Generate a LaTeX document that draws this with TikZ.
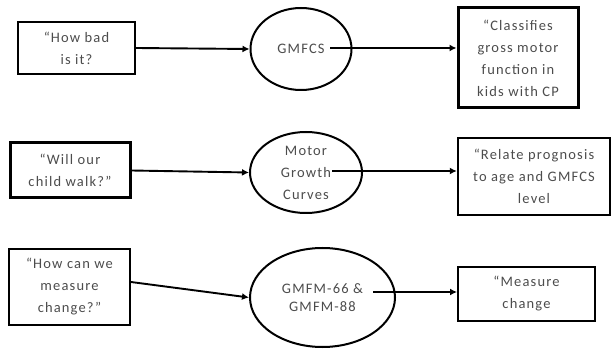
\documentclass[tikz,border=0pt]{standalone}
\usepackage{fontspec}
\setmainfont{Carlito}[LetterSpace=8]
\usetikzlibrary{shapes.geometric,arrows.meta}
\definecolor{txt}{gray}{0.3}
\begin{document}
\begin{tikzpicture}[x=1pt,y=-1pt,
  txtstyle/.style={text=txt,align=center,font=\fontsize{14.5}{22}\selectfont,inner sep=0pt},
  boxn/.style={txtstyle,draw=black,line width=2pt,rectangle},
  boxthick/.style={boxn,line width=3pt},
  ell/.style={txtstyle,draw=black,line width=2pt,ellipse},
  arr/.style={draw=black,line width=1.9pt,-{Latex[length=7pt,width=7pt]}}]
\useasboundingbox (0,0) rectangle (612,352);
% row 1
\node[boxn,minimum width=117pt,minimum height=52pt] (b1) at (76.5,48) {“How bad\\is it?};
\node[ell,minimum width=101pt,minimum height=82pt] (e1) at (301,49) {GMFCS};
\node[boxthick,minimum width=120pt,minimum height=100pt] (b2) at (518,58) {“Classifies\\gross motor\\function in\\kids with CP};
\coordinate (s1) at (330,48);
\draw[arr] (b1.east) -- (e1.west);
\draw[arr] (s1) -- (s1 -| b2.west);
% row 2
\node[boxthick,minimum width=120pt,minimum height=55pt] (b3) at (70,170.5) {“Will our\\child walk?”};
\node[ell,minimum width=112pt,minimum height=81pt] (e2) at (306,172.5) {Motor\\Growth\\Curves};
\node[boxn,line width=2.5pt,minimum width=152pt,minimum height=77pt] (b4) at (534,176.5) {“Relate prognosis\\to age and GMFCS\\level};
\coordinate (s2) at (332,171);
\draw[arr] (b3.east) -- (e2.west);
\draw[arr] (s2) -- (s2 -| b4.west);
% row 3
\node[boxn,minimum width=121pt,minimum height=76pt] (b5) at (69.5,287) {“How can we\\measure\\change?”};
\node[ell,minimum width=145pt,minimum height=99pt,font=\fontsize{14.5}{18}\selectfont] (e3) at (322.5,297.5) {GMFM-66 \&\\GMFM-88};
\node[boxn,minimum width=137pt,minimum height=54pt] (b6) at (526.5,294) {“Measure\\change};
\coordinate (s3) at (373,292);
\draw[arr] ([yshift=5pt]b5.east) -- (e3.west);
\draw[arr] (s3) -- (s3 -| b6.west);
\end{tikzpicture}
\end{document}
